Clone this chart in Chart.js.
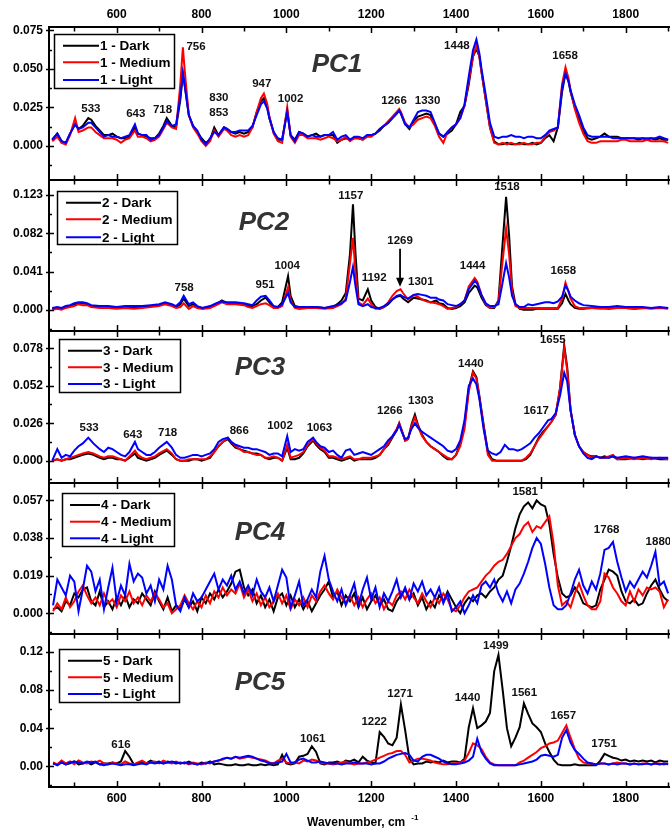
<!DOCTYPE html>
<html>
<head>
<meta charset="utf-8">
<title>PC loadings</title>
<script src="https://cdn.jsdelivr.net/npm/chart.js@4.4.1/dist/chart.umd.min.js"></script>
<style>
  html, body { margin: 0; padding: 0; background: #fff; }
  #wrap { position: relative; width: 670px; height: 831px; overflow: hidden; background: #fff; }
  #wrap canvas { position: absolute; left: 0; top: 0; }
</style>
</head>
<body>
<div id="wrap">
  <canvas id="pc1" width="670" height="831"></canvas>
  <canvas id="pc2" width="670" height="831"></canvas>
  <canvas id="pc3" width="670" height="831"></canvas>
  <canvas id="pc4" width="670" height="831"></canvas>
  <canvas id="pc5" width="670" height="831"></canvas>
</div>
<script>
// --- DATA ---
const seriesNames = ['Dark', 'Medium', 'Light'];
const xLabels = [600, 800, 1000, 1200, 1400, 1600, 1800];
const xTickMarks = [500, 600, 700, 800, 900, 1000, 1100, 1200, 1300, 1400, 1500, 1600, 1700, 1800, 1900];

// PC1
const wn1 = [448,460,470,480,490,502,510,520,533,540,
  550,560,570,580,590,600,610,620,630,643,
  650,660,670,680,690,700,710,718,730,740,
  750,756,760,770,780,790,800,810,820,830,
  840,853,860,870,880,890,900,910,920,930,
  940,947,955,960,970,980,990,1002,1010,1020,
  1030,1040,1050,1060,1070,1080,1090,1100,1110,1120,
  1130,1140,1150,1160,1170,1180,1190,1200,1210,1220,
  1230,1240,1250,1260,1266,1270,1280,1290,1300,1310,
  1320,1330,1340,1350,1360,1370,1380,1390,1400,1410,
  1420,1430,1440,1448,1455,1460,1470,1480,1490,1500,
  1510,1520,1530,1540,1550,1560,1570,1580,1590,1600,
  1610,1620,1630,1640,1650,1658,1665,1670,1680,1690,
  1700,1710,1720,1730,1740,1750,1760,1770,1780,1790,
  1800,1810,1820,1830,1840,1850,1860,1870,1880,1890,
  1900];
const dark1 = [.004,.008,.003,.002,.008,.014,.011,.013,.018,.017,
  .013,.010,.007,.007,.008,.006,.005,.005,.006,.012,
  .008,.007,.006,.005,.005,.008,.013,.018,.013,.012,
  .030,.047,.040,.020,.013,.009,.005,.002,.004,.012,
  .007,.012,.011,.009,.008,.009,.008,.009,.012,.022,
  .029,.031,.025,.018,.009,.004,.004,.023,.007,.004,
  .009,.008,.006,.007,.008,.006,.007,.007,.007,.002,
  .004,.005,.004,.005,.005,.004,.006,.007,.008,.010,
  .013,.015,.018,.021,.023,.021,.014,.011,.016,.019,
  .020,.021,.020,.014,.008,.006,.008,.010,.014,.022,
  .026,.040,.058,.063,.058,.048,.030,.012,.003,.001,
  .001,.002,.001,.001,.002,.001,.001,.002,.001,.002,
  .005,.007,.003,.012,.035,.047,.042,.035,.025,.018,
  .010,.005,.004,.005,.006,.008,.006,.006,.006,.005,
  .005,.005,.005,.004,.005,.004,.005,.004,.005,.004,
  .004];
const medium1 = [.003,.006,.002,.001,.007,.018,.009,.010,.012,.012,
  .009,.007,.005,.005,.005,.004,.002,.004,.005,.010,
  .006,.006,.005,.003,.004,.006,.011,.015,.012,.011,
  .040,.064,.050,.020,.012,.008,.003,.000,.003,.010,
  .006,.011,.010,.007,.006,.007,.006,.007,.012,.022,
  .031,.034,.027,.019,.008,.003,.002,.025,.006,.002,
  .007,.007,.005,.005,.005,.004,.005,.006,.005,.003,
  .004,.006,.003,.005,.005,.004,.006,.006,.008,.011,
  .013,.016,.019,.022,.024,.022,.015,.012,.014,.017,
  .018,.019,.018,.013,.006,.002,.009,.012,.014,.018,
  .026,.042,.058,.065,.058,.048,.030,.012,.002,.001,
  .002,.001,.002,.001,.001,.002,.001,.001,.002,.002,
  .006,.009,.010,.012,.040,.051,.044,.036,.024,.015,
  .008,.003,.002,.002,.003,.003,.003,.003,.003,.004,
  .004,.003,.003,.003,.003,.004,.003,.003,.003,.003,
  .002];
const light1 = [.004,.008,.003,.002,.008,.014,.011,.012,.015,.015,
  .012,.009,.006,.007,.006,.006,.005,.006,.007,.014,
  .008,.007,.007,.004,.005,.007,.012,.016,.013,.014,
  .032,.047,.040,.020,.013,.010,.004,.001,.005,.009,
  .007,.012,.011,.009,.009,.010,.010,.010,.013,.020,
  .027,.029,.024,.018,.009,.005,.004,.022,.007,.003,
  .009,.008,.006,.007,.006,.006,.007,.007,.009,.004,
  .006,.007,.004,.006,.006,.005,.007,.007,.008,.011,
  .013,.015,.018,.021,.023,.021,.014,.012,.017,.022,
  .023,.023,.022,.015,.008,.006,.009,.012,.014,.018,
  .027,.045,.062,.069,.060,.050,.033,.015,.006,.005,
  .006,.006,.007,.006,.006,.005,.006,.006,.005,.005,
  .007,.010,.011,.012,.038,.047,.042,.036,.027,.020,
  .012,.007,.006,.006,.006,.006,.006,.005,.005,.005,
  .005,.005,.005,.005,.005,.005,.005,.005,.006,.005,
  .004];
const yTicks1 = [0, 0.025, 0.05, 0.075];
const peaks1 = [['533', 539, 0.0241], ['643', 645, 0.0209], ['718', 708, 0.0236], ['756', 787, 0.0644],
  ['830', 841, 0.0312], ['853', 841, 0.0213], ['947', 942, 0.0402], ['1002', 1010, 0.0305],
  ['1266', 1254, 0.029], ['1330', 1333, 0.0294], ['1448', 1402, 0.0649], ['1658', 1657, 0.0584]];

// PC2
const wn2 = [448,460,470,480,490,500,510,520,530,540,
  560,580,600,620,640,660,680,700,714,730,
  740,750,758,770,780,790,802,820,835,848,
  860,880,900,910,920,930,940,951,960,970,
  980,990,1004,1010,1020,1030,1050,1070,1090,1110,
  1120,1130,1140,1150,1157,1163,1170,1180,1192,1200,
  1210,1220,1230,1240,1250,1260,1269,1275,1287,1300,
  1310,1320,1330,1340,1353,1360,1370,1380,1390,1400,
  1410,1420,1430,1444,1450,1460,1470,1480,1490,1500,
  1508,1518,1525,1532,1540,1550,1560,1570,1580,1590,
  1600,1610,1620,1630,1640,1650,1658,1665,1670,1680,
  1690,1700,1720,1740,1760,1780,1800,1820,1840,1860,
  1880,1900];
const dark2 = [.001,.002,.001,.003,.004,.006,.007,.007,.006,.004,
  .003,.003,.002,.003,.002,.003,.004,.005,.007,.005,
  .003,.006,.012,.004,.006,.003,.002,.003,.006,.010,
  .007,.007,.006,.004,.004,.006,.010,.013,.008,.003,
  .003,.008,.036,.015,.004,.003,.003,.003,.002,.003,
  .006,.010,.018,.060,.113,.060,.012,.010,.022,.010,
  .003,.001,.003,.006,.011,.014,.015,.012,.008,.013,
  .012,.011,.010,.008,.010,.007,.006,.002,.001,.002,
  .004,.008,.018,.026,.024,.013,.005,.002,.002,.010,
  .060,.121,.080,.025,.006,.001,.000,.000,.000,.001,
  .001,.001,.001,.001,.001,.007,.017,.010,.006,.002,
  .001,.001,.002,.002,.001,.002,.002,.001,.002,.002,
  .002,.002];
const medium2 = [.000,.001,.000,.002,.003,.004,.006,.005,.005,.003,
  .002,.002,.001,.002,.001,.002,.003,.004,.006,.004,
  .002,.003,.007,.001,.004,.002,.001,.002,.005,.008,
  .006,.006,.005,.003,.002,.004,.006,.007,.005,.002,
  .002,.004,.024,.010,.002,.001,.002,.002,.001,.002,
  .004,.006,.012,.050,.077,.040,.008,.005,.012,.006,
  .001,.001,.003,.008,.015,.020,.022,.018,.011,.016,
  .014,.011,.009,.008,.007,.006,.004,.001,.002,.003,
  .006,.010,.025,.034,.030,.016,.006,.002,.003,.008,
  .045,.087,.060,.020,.004,.002,.002,.002,.002,.002,
  .002,.002,.002,.002,.002,.012,.029,.020,.012,.004,
  .002,.002,.002,.001,.002,.002,.002,.001,.002,.001,
  .002,.001];
const light2 = [.002,.003,.002,.004,.005,.007,.008,.008,.007,.005,
  .004,.004,.003,.004,.004,.004,.005,.006,.008,.006,
  .004,.008,.015,.006,.008,.004,.002,.004,.007,.009,
  .008,.008,.007,.006,.005,.010,.014,.015,.010,.004,
  .003,.006,.018,.008,.003,.003,.003,.003,.002,.004,
  .005,.007,.010,.030,.046,.025,.006,.004,.006,.003,
  .002,.002,.004,.007,.011,.015,.016,.014,.012,.016,
  .017,.016,.015,.013,.013,.011,.010,.006,.005,.004,
  .006,.010,.022,.031,.028,.016,.007,.004,.004,.006,
  .025,.050,.035,.015,.006,.003,.003,.006,.005,.006,
  .007,.008,.008,.007,.009,.014,.026,.020,.014,.010,
  .007,.005,.004,.003,.003,.004,.003,.003,.003,.002,
  .003,.002];
const yTicks2 = [0, 0.041, 0.082, 0.123];
const peaks2 = [['758', 759, 0.0234], ['951', 950, 0.027], ['1004', 1002, 0.0475], ['1157', 1152, 0.1222],
  ['1192', 1207, 0.0338], ['1269', 1268, 0.0737], ['1301', 1317, 0.0295], ['1444', 1439, 0.0467],
  ['1518', 1520, 0.1313], ['1658', 1653, 0.0421]];
const arrow2 = [1268, 0.0655, 0.0248];

// PC3
const wn3 = [448,460,470,480,490,500,510,520,533,545,
  560,570,580,590,600,610,620,630,643,650,
  660,670,680,690,700,718,730,740,750,760,
  770,780,790,800,810,820,830,840,850,862,
  870,880,890,900,910,920,930,940,950,960,
  970,980,990,1002,1010,1020,1030,1040,1050,1063,
  1070,1080,1090,1100,1110,1120,1130,1140,1150,1160,
  1170,1180,1190,1200,1210,1220,1230,1240,1250,1260,
  1266,1272,1280,1287,1295,1303,1310,1320,1330,1340,
  1350,1360,1370,1380,1390,1400,1410,1420,1430,1440,
  1448,1455,1465,1475,1485,1495,1505,1515,1525,1535,
  1545,1555,1565,1575,1585,1595,1605,1617,1625,1635,
  1645,1655,1662,1670,1680,1690,1700,1710,1720,1730,
  1740,1750,1760,1770,1780,1800,1820,1840,1860,1880,
  1900];
const dark3 = [.000,.001,.000,.001,.001,.002,.003,.004,.005,.004,
  .002,.001,.002,.002,.001,.001,.000,.002,.005,.002,
  .001,.000,.001,.002,.004,.007,.004,.001,.000,.000,
  .000,.001,.001,.000,.001,.002,.006,.010,.013,.015,
  .012,.009,.008,.007,.006,.005,.005,.004,.002,.001,
  .002,.002,.000,.009,.001,.001,.002,.005,.010,.014,
  .011,.008,.006,.002,.002,.001,.000,.001,.002,.000,
  .001,.001,.001,.001,.002,.004,.008,.011,.016,.021,
  .026,.021,.014,.015,.025,.032,.025,.018,.013,.010,
  .008,.006,.003,.001,.001,.004,.012,.025,.050,.062,
  .058,.045,.025,.006,.001,.000,.000,.000,.000,.000,
  .000,.000,.001,.004,.010,.016,.020,.024,.027,.032,
  .050,.080,.065,.035,.018,.010,.006,.004,.003,.003,
  .002,.003,.002,.003,.001,.001,.002,.001,.002,.001,
  .001];
const medium3 = [.000,.001,.000,.001,.002,.003,.004,.005,.006,.005,
  .003,.002,.003,.003,.002,.001,.000,.003,.007,.004,
  .002,.001,.002,.003,.005,.008,.005,.001,.000,.000,
  .001,.001,.001,.001,.001,.003,.006,.010,.013,.016,
  .013,.010,.008,.006,.006,.005,.004,.004,.002,.002,
  .003,.002,.000,.011,.002,.003,.004,.006,.011,.015,
  .012,.009,.007,.003,.003,.002,.001,.002,.003,.001,
  .001,.002,.002,.002,.003,.004,.008,.012,.017,.022,
  .026,.021,.014,.015,.024,.030,.024,.017,.013,.010,
  .008,.006,.004,.002,.001,.004,.010,.022,.048,.061,
  .057,.044,.024,.004,.000,.000,.000,.000,.000,.000,
  .000,.000,.002,.005,.010,.015,.019,.024,.027,.032,
  .050,.078,.063,.035,.018,.010,.006,.004,.002,.003,
  .002,.002,.003,.004,.001,.002,.001,.002,.001,.002,
  .001];
const light3 = [.000,.008,.002,.004,.003,.007,.010,.012,.016,.012,
  .008,.006,.009,.008,.006,.004,.003,.006,.013,.008,
  .006,.004,.004,.006,.009,.013,.009,.004,.002,.002,
  .003,.004,.004,.003,.004,.005,.008,.013,.015,.016,
  .013,.011,.010,.009,.009,.008,.008,.007,.006,.004,
  .005,.005,.003,.017,.006,.008,.007,.008,.013,.016,
  .013,.010,.009,.006,.007,.004,.002,.007,.008,.004,
  .005,.006,.005,.004,.006,.008,.010,.014,.017,.021,
  .025,.020,.015,.016,.022,.026,.023,.020,.018,.016,
  .014,.012,.010,.007,.006,.008,.014,.028,.052,.057,
  .053,.043,.022,.007,.005,.004,.006,.011,.008,.008,
  .007,.008,.010,.012,.016,.019,.023,.028,.029,.033,
  .045,.061,.055,.035,.018,.010,.005,.002,.001,.003,
  .002,.002,.002,.003,.002,.003,.002,.003,.002,.002,
  .002];
const yTicks3 = [0, 0.026, 0.052, 0.078];
const peaks3 = [['533', 535, 0.0225], ['643', 638, 0.0178], ['718', 720, 0.019], ['866', 889, 0.0206],
  ['1002', 985, 0.0243], ['1063', 1078, 0.0231], ['1266', 1244, 0.0344], ['1303', 1317, 0.0416],
  ['1440', 1435, 0.0675], ['1617', 1589, 0.0347], ['1655', 1628, 0.0836]];

// PC4 and PC5 share one wavenumber grid
const wnGrid = [450,460,470,480,490,500,510,520,530,540,
  550,560,570,580,590,600,610,620,630,640,
  650,660,670,680,690,700,710,720,730,740,
  750,760,770,780,790,800,810,820,830,840,
  850,860,870,880,890,900,910,920,930,940,
  950,960,970,980,990,1000,1010,1020,1030,1040,
  1050,1060,1070,1080,1090,1100,1110,1120,1130,1140,
  1150,1160,1170,1180,1190,1200,1210,1220,1230,1240,
  1250,1260,1270,1280,1290,1300,1310,1320,1330,1340,
  1350,1360,1370,1380,1390,1400,1410,1420,1430,1440,
  1450,1460,1470,1480,1490,1500,1510,1520,1530,1540,
  1550,1560,1570,1580,1590,1600,1610,1620,1630,1640,
  1650,1660,1670,1680,1690,1700,1710,1720,1730,1740,
  1750,1760,1770,1780,1790,1800,1810,1820,1830,1840,
  1850,1860,1870,1880,1890,1900];

const dark4 = [.002,.003,.001,.006,.004,.010,.008,.012,.013,.006,
  .004,.011,.003,.006,.002,.008,.004,.009,.003,.007,
  .005,.010,.007,.004,.011,.006,.002,.008,.001,.004,
  .002,.007,.003,.006,.001,.008,.005,.010,.007,.012,
  .008,.011,.015,.021,.022,.013,.009,.012,.005,.009,
  .003,.007,.001,.008,.010,.004,.009,.003,.007,.002,
  .006,.001,.005,.009,.012,.016,.008,.011,.004,.009,
  .006,.010,.003,.008,.002,.006,.009,.004,.007,.002,
  .001,.006,.009,.012,.007,.010,.004,.008,.002,.006,
  .003,.009,.006,.011,.007,.003,.000,.005,.008,.006,
  .009,.010,.008,.011,.013,.017,.019,.026,.034,.043,
  .050,.054,.056,.053,.057,.055,.054,.045,.030,.018,
  .010,.008,.009,.013,.010,.005,.004,.003,.004,.012,
  .017,.022,.021,.019,.011,.006,.005,.007,.004,.005,
  .010,.014,.017,.012,.008,.006];
const medium4 = [.001,.005,.002,.008,.003,.006,.011,.014,.009,.005,
  .008,.004,.010,.005,.007,.003,.009,.006,.011,.005,
  .008,.004,.009,.006,.010,.007,.003,.005,.000,.002,
  .004,.009,.005,.002,.006,.003,.009,.005,.011,.008,
  .013,.009,.012,.010,.015,.008,.012,.006,.010,.004,
  .008,.003,.006,.010,.005,.009,.002,.007,.004,.008,
  .003,.009,.006,.011,.014,.010,.007,.012,.008,.005,
  .009,.004,.008,.003,.007,.010,.005,.008,.002,.006,
  .004,.009,.011,.007,.012,.008,.005,.010,.006,.003,
  .008,.005,.010,.007,.002,.001,.004,.008,.011,.012,
  .013,.016,.019,.021,.024,.026,.027,.030,.034,.038,
  .040,.044,.046,.041,.044,.043,.046,.049,.035,.014,
  .004,.006,.003,.010,.015,.009,.004,.002,.002,.006,
  .020,.018,.013,.010,.006,.004,.011,.006,.012,.009,
  .013,.012,.013,.011,.003,.007];
const light4 = [.004,.017,.013,.009,.019,.016,.001,.012,.024,.021,
  .011,.017,.002,.013,.023,.006,.014,.009,.025,.016,
  .020,.018,.010,.014,.006,.017,.012,.024,.017,.004,
  .001,.008,.003,.010,.006,.008,.012,.016,.020,.012,
  .017,.014,.019,.012,.016,.010,.014,.009,.017,.011,
  .008,.013,.006,.014,.022,.018,.003,.009,.016,.004,
  .007,.012,.008,.021,.029,.017,.011,.006,.012,.004,
  .009,.015,.004,.012,.018,.007,.013,.003,.010,.006,
  .011,.017,.008,.013,.007,.015,.011,.016,.009,.012,
  .008,.013,.005,.010,.001,.003,.006,.000,.004,.009,
  .005,.014,.016,.013,.017,.010,.006,.011,.005,.012,
  .015,.020,.026,.033,.038,.035,.025,.013,.004,.002,
  .002,.004,.010,.017,.022,.014,.010,.016,.012,.020,
  .032,.033,.036,.026,.018,.011,.016,.013,.017,.021,
  .018,.024,.031,.014,.016,.010];
const yTicks4 = [0, 0.019, 0.038, 0.057];
const peaks4 = [['1581', 1563, 0.0613], ['1768', 1755, 0.0419], ['1880', 1877, 0.036]];

const dark5 = [.003,.002,.004,.002,.003,.005,.002,.003,.004,.002,
  .004,.002,.003,.003,.004,.003,.005,.016,.010,.002,
  .003,.005,.003,.006,.004,.005,.003,.005,.004,.003,
  .004,.003,.005,.003,.002,.004,.003,.005,.002,.003,
  .002,.001,.001,.002,.001,.001,.002,.001,.001,.002,
  .001,.002,.001,.002,.012,.003,.002,.003,.010,.011,
  .013,.021,.015,.003,.002,.004,.004,.005,.003,.006,
  .005,.007,.004,.010,.006,.004,.003,.036,.031,.024,
  .022,.030,.065,.038,.008,.002,.003,.003,.005,.004,
  .005,.004,.006,.004,.005,.005,.004,.008,.041,.061,
  .040,.043,.047,.056,.100,.117,.080,.040,.021,.030,
  .041,.066,.055,.045,.041,.036,.024,.015,.007,.002,
  .001,.001,.001,.002,.001,.001,.001,.001,.001,.006,
  .013,.011,.009,.008,.006,.007,.005,.006,.005,.006,
  .005,.006,.004,.006,.005,.005];
const medium5 = [.004,.002,.006,.003,.005,.002,.006,.004,.003,.005,
  .004,.006,.003,.002,.004,.003,.002,.005,.003,.002,
  .004,.006,.003,.004,.005,.003,.006,.004,.003,.005,
  .003,.004,.002,.004,.003,.002,.004,.003,.005,.006,
  .007,.009,.008,.010,.008,.009,.010,.009,.008,.007,
  .006,.004,.003,.006,.008,.004,.003,.004,.003,.006,
  .005,.007,.006,.004,.003,.003,.002,.003,.004,.005,
  .003,.002,.003,.003,.004,.005,.007,.009,.011,.013,
  .014,.016,.016,.012,.004,.006,.008,.008,.007,.006,
  .004,.003,.002,.002,.003,.003,.004,.006,.014,.024,
  .022,.018,.010,.004,.002,.001,.001,.001,.001,.001,
  .004,.006,.009,.012,.015,.019,.021,.024,.025,.027,
  .035,.043,.030,.018,.008,.004,.003,.003,.002,.003,
  .003,.002,.003,.004,.003,.003,.002,.003,.002,.003,
  .003,.002,.003,.003,.002,.003];
const light5 = [.003,.001,.004,.002,.004,.005,.004,.003,.005,.004,
  .005,.002,.001,.002,.003,.002,.001,.002,.002,.001,
  .002,.003,.002,.004,.003,.004,.003,.004,.005,.004,
  .003,.004,.003,.003,.002,.003,.003,.004,.005,.006,
  .008,.009,.008,.010,.009,.010,.011,.010,.008,.006,
  .005,.003,.003,.004,.005,.013,.004,.004,.007,.008,
  .006,.004,.004,.005,.004,.003,.003,.003,.002,.003,
  .003,.004,.003,.003,.003,.002,.003,.003,.005,.008,
  .010,.012,.013,.014,.012,.006,.005,.010,.012,.012,
  .010,.008,.005,.003,.002,.002,.003,.004,.006,.010,
  .029,.015,.008,.003,.001,.001,.001,.001,.001,.001,
  .002,.003,.004,.005,.007,.011,.012,.011,.010,.012,
  .030,.038,.025,.017,.013,.008,.004,.003,.002,.003,
  .003,.002,.003,.002,.003,.003,.002,.003,.002,.002,
  .003,.002,.003,.002,.003,.002];
const yTicks5 = [0, 0.04, 0.08, 0.12];
const peaks5 = [['616', 610, 0.0229], ['1061', 1062, 0.0285], ['1222', 1207, 0.0468], ['1271', 1268, 0.076],
  ['1440', 1427, 0.0714], ['1499', 1494, 0.127], ['1561', 1561, 0.0774], ['1657', 1653, 0.0528],
  ['1751', 1749, 0.0232]];

// --- LAYOUT / STYLE ---
const FONT = "'Liberation Sans', Arial, Helvetica, sans-serif";
const X_MIN = 440.4, X_MAX = 1904.4;
const colors = ['#000000', '#ff0000', '#0000ff'];

const panels = [
  { id: 'pc1', n: 1, wn: wn1, series: [dark1, medium1, light1], yMin: -0.0221, yMax: 0.0771, yTicks: yTicks1, dec: 3, peaks: peaks1,
    top: 27, bottom: 180, title: [337, 65], legend: { box: [54, 34, 174, 88], line: [63, 99], text: 100, rows: [45.7, 62.3, 80] } },
  { id: 'pc2', n: 2, wn: wn2, series: [dark2, medium2, light2], yMin: -0.0227, yMax: 0.139, yTicks: yTicks2, dec: 3, peaks: peaks2, arrow: arrow2,
    top: 180, bottom: 331, title: [264, 223], legend: { box: [57, 191, 177, 244], line: [66, 101], text: 102, rows: [202.7, 219.3, 237.3] } },
  { id: 'pc3', n: 3, wn: wn3, series: [dark3, medium3, light3], yMin: -0.0155, yMax: 0.090, yTicks: yTicks3, dec: 3, peaks: peaks3,
    top: 331, bottom: 483, title: [260, 368], legend: { box: [59, 339, 180, 392], line: [68, 102], text: 103, rows: [350.7, 367.3, 384] } },
  { id: 'pc4', n: 4, wn: wnGrid, series: [dark4, medium4, light4], yMin: -0.0105, yMax: 0.0658, yTicks: yTicks4, dec: 3, peaks: peaks4,
    top: 483, bottom: 634, title: [260, 533], legend: { box: [62, 493, 174, 546], line: [70, 100], text: 101, rows: [505, 521.7, 538.3] } },
  { id: 'pc5', n: 5, wn: wnGrid, series: [dark5, medium5, light5], yMin: -0.0218, yMax: 0.139, yTicks: yTicks5, dec: 2, peaks: peaks5,
    top: 634, bottom: 787, title: [260, 683], legend: { box: [59, 649, 179, 702], line: [68, 102], text: 103, rows: [660.7, 677.3, 694] } }
];

// sanity check on hand typed arrays
panels.forEach(p => p.series.forEach((s, k) => {
  if (s.length !== p.wn.length) throw new Error('PC' + p.n + ' ' + seriesNames[k] + ': ' + s.length + ' vs ' + p.wn.length);
}));

Chart.defaults.font.family = FONT;
Chart.defaults.color = '#000';

// frame, inward ticks, legend, peak labels, panel title
function makeDecor(p, isLast) {
  return {
    id: 'decor' + p.n,
    afterDraw(chart) {
      const ctx = chart.ctx, a = chart.chartArea;
      const xs = chart.scales.x, ys = chart.scales.y;
      ctx.save();
      ctx.strokeStyle = '#000';
      ctx.lineWidth = 2;
      ctx.beginPath();
      ctx.moveTo(a.left, a.top); ctx.lineTo(a.right, a.top);
      ctx.moveTo(a.left, a.bottom); ctx.lineTo(a.right, a.bottom);
      ctx.moveTo(a.left, a.top - 1); ctx.lineTo(a.left, a.bottom + 1);
      ctx.stroke();

      // x ticks point inward from both edges, a little longer at labelled values
      ctx.lineWidth = 1.5;
      ctx.beginPath();
      xTickMarks.forEach(v => {
        const px = Math.round(xs.getPixelForValue(v)) + 0.5;
        const len = xLabels.includes(v) ? 6 : 4.5;
        ctx.moveTo(px, a.top); ctx.lineTo(px, a.top + len);
        ctx.moveTo(px, a.bottom); ctx.lineTo(px, a.bottom - len);
      });
      const step = p.yTicks[1] - p.yTicks[0];
      p.yTicks.forEach(v => {
        const py = Math.round(ys.getPixelForValue(v)) + 0.5;
        ctx.moveTo(a.left - 3, py); ctx.lineTo(a.left + 5, py);
      });
      for (let v = p.yTicks[0] - step / 2; v < p.yMax; v += step) {
        if (v <= p.yMin) continue;
        const py = Math.round(ys.getPixelForValue(v)) + 0.5;
        ctx.moveTo(a.left, py); ctx.lineTo(a.left + 3, py);
      }
      ctx.stroke();

      // legend
      const L = p.legend;
      ctx.lineWidth = 1.5;
      ctx.strokeRect(L.box[0] + 0.5, L.box[1] + 0.5, L.box[2] - L.box[0], L.box[3] - L.box[1]);
      ctx.font = 'bold 13.5px ' + FONT;
      ctx.textBaseline = 'middle';
      ctx.textAlign = 'left';
      seriesNames.forEach((name, k) => {
        const y = L.rows[k];
        ctx.strokeStyle = colors[k];
        ctx.lineWidth = 2;
        ctx.beginPath();
        ctx.moveTo(L.line[0], y); ctx.lineTo(L.line[1], y);
        ctx.stroke();
        ctx.fillStyle = '#000';
        ctx.fillText(p.n + ' - ' + name, L.text, y + 0.5);
      });

      // peak labels
      ctx.font = 'bold 11.5px ' + FONT;
      ctx.textAlign = 'center';
      ctx.fillStyle = '#111';
      p.peaks.forEach(([t, x, y]) => ctx.fillText(t, xs.getPixelForValue(x), ys.getPixelForValue(y)));

      if (p.arrow) {
        const ax = xs.getPixelForValue(p.arrow[0]);
        const y0 = ys.getPixelForValue(p.arrow[1]), y1 = ys.getPixelForValue(p.arrow[2]);
        ctx.strokeStyle = '#000';
        ctx.lineWidth = 1.8;
        ctx.beginPath();
        ctx.moveTo(ax, y0); ctx.lineTo(ax, y1 - 6);
        ctx.stroke();
        ctx.beginPath();
        ctx.moveTo(ax, y1); ctx.lineTo(ax - 4, y1 - 9); ctx.lineTo(ax + 4, y1 - 9);
        ctx.closePath();
        ctx.fillStyle = '#000';
        ctx.fill();
      }

      // panel title
      ctx.font = 'italic bold 26px ' + FONT;
      ctx.fillStyle = '#333';
      ctx.textAlign = 'center';
      ctx.fillText('PC' + p.n, p.title[0], p.title[1]);

      // x axis title with superscript
      if (isLast) {
        ctx.fillStyle = '#000';
        ctx.textAlign = 'left';
        ctx.font = 'bold 12px ' + FONT;
        const main = 'Wavenumber, cm';
        ctx.fillText(main, 307, 823);
        const w = ctx.measureText(main).width;
        ctx.font = 'bold 8px ' + FONT;
        ctx.fillText('-1', 307 + w + 6, 818);
      }
      ctx.restore();
    }
  };
}

const tickFont = { family: FONT, size: 12, weight: 'bold' };

panels.forEach((p, i) => {
  const isFirst = i === 0, isLast = i === panels.length - 1;
  const datasets = p.series.map((s, k) => ({
    label: p.n + ' - ' + seriesNames[k],
    data: p.wn.map((x, j) => ({ x: x, y: s[j] })),
    borderColor: colors[k],
    borderWidth: 2,
    pointRadius: 0,
    tension: 0,
    order: 3 - k
  }));

  const scales = {
    x: {
      type: 'linear', position: 'bottom', min: X_MIN, max: X_MAX,
      grid: { display: false, drawTicks: false }, border: { display: false },
      ticks: { display: isLast, font: tickFont, color: '#000', padding: 4, autoSkip: false, maxRotation: 0, callback: v => String(v) },
      afterBuildTicks: s => { s.ticks = xLabels.map(v => ({ value: v })); },
      afterFit: s => { s.height = isLast ? 44 : 0; }
    },
    y: {
      position: 'left', min: p.yMin, max: p.yMax,
      grid: { display: false, drawTicks: false }, border: { display: false },
      ticks: { font: tickFont, color: '#000', padding: 6, callback: v => Number(v).toFixed(p.dec) },
      afterBuildTicks: s => { s.ticks = p.yTicks.map(v => ({ value: v })); },
      afterFit: s => { s.width = 49; }
    }
  };
  if (isFirst) {
    scales.x2 = {
      type: 'linear', position: 'top', min: X_MIN, max: X_MAX,
      grid: { display: false, drawTicks: false }, border: { display: false },
      ticks: { font: tickFont, color: '#000', padding: 5, autoSkip: false, maxRotation: 0, callback: v => String(v) },
      afterBuildTicks: s => { s.ticks = xLabels.map(v => ({ value: v })); },
      afterFit: s => { s.height = 27; }
    };
  }

  new Chart(document.getElementById(p.id), {
    type: 'line',
    data: { datasets },
    options: {
      responsive: false,
      animation: false,
      devicePixelRatio: 1,
      layout: { padding: { left: 0, right: 0, top: isFirst ? 0 : p.top, bottom: 831 - p.bottom - (isLast ? 44 : 0) } },
      plugins: { legend: { display: false }, tooltip: { enabled: false } },
      scales
    },
    plugins: [makeDecor(p, isLast)]
  });
});
</script>
</body>
</html>
